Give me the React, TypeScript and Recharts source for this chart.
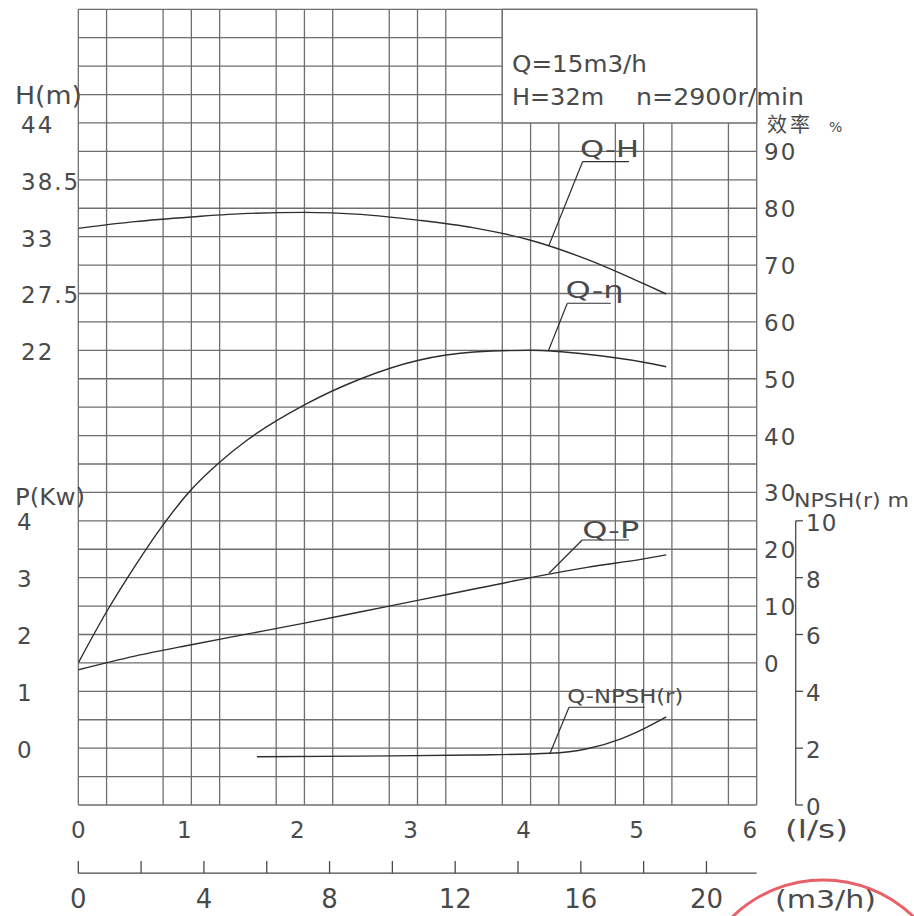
import React from 'react';
import {
  LineChart,
  Line,
  XAxis,
  YAxis,
  CartesianGrid,
  ReferenceArea,
  ReferenceLine,
  ReferenceDot,
} from 'recharts';

// ---------- data (flow in l/s) ----------
const qHead = [0, 0.5, 1, 1.5, 2, 2.5, 3, 3.5, 4, 4.5, 5, 5.2];
const headM = [33.8, 34.45, 34.9, 35.25, 35.35, 35.15, 34.6, 33.85, 32.65, 30.8, 28.45, 27.45];

const qEff = [0, 0.25, 0.5, 0.75, 1, 1.25, 1.5, 2, 2.5, 3, 3.5, 4, 4.5, 5, 5.2];
const effPct = [0, 9.0, 17.0, 24.3, 30.5, 35.3, 39.3, 45.4, 50.0, 53.2, 54.7, 55.0, 54.3, 52.9, 52.1];

const qPower = [0, 0.5, 1, 1.5, 2, 2.5, 3, 3.5, 4, 4.5, 5, 5.2];
const powerKw = [1.38, 1.62, 1.82, 2.01, 2.2, 2.4, 2.6, 2.8, 3.0, 3.18, 3.33, 3.4];

const qNpsh = [1.58, 2.5, 3.5, 4.17, 4.5, 4.8, 5.0, 5.2];
const npshM = [1.7, 1.72, 1.76, 1.82, 1.98, 2.33, 2.68, 3.1];

// ---------- ticks ----------
const flowTicks = [0, 1, 2, 3, 4, 5, 6];
const m3hTicks = [0, 2, 4, 6, 8, 10, 12, 14, 16, 18, 20];
const m3hLabels = [0, 4, 8, 12, 16, 20];
const headTicks = [22, 27.5, 33, 38.5, 44];
const effTicks = [0, 10, 20, 30, 40, 50, 60, 70, 80, 90];
const powerTicks = [0, 1, 2, 3, 4];
const npshTicks = [0, 2, 4, 6, 8, 10];
const gridCols = [0, 0.25, 0.5, 0.75, 1, 1.25, 1.5, 1.75, 2, 2.25, 2.5, 2.75, 3, 3.25, 3.5, 3.75, 4, 4.25, 4.5, 4.75, 5, 5.25, 5.5, 5.75, 6];
const gridRows = [0, 1, 2, 3, 4, 5, 6, 7, 8, 9, 10, 11, 12, 13, 14, 15, 16, 17, 18, 19, 20, 21, 22, 23, 24, 25, 26, 27, 28];

// ---------- curve label annotations (data coordinates) ----------
const annLabels = ['Q-H', 'Q-η', 'Q-P', 'Q-NPSH(r)'];
const annAxis = ['H', 'eta', 'P', 'npsh'];
const annText = [[4.437, 40.71], [4.31, 64.2], [4.457, 3.7], [4.325, 3.59]];
const annElbow = [[4.46, 40.25], [4.325, 63.28], [4.457, 3.663], [4.34, 3.44]];
const annEnd = [[4.87, 40.25], [4.709, 63.28], [4.87, 3.663], [5.009, 3.44]];
const annAnchor = [[4.16, 32.1], [4.157, 54.89], [4.163, 3.077], [4.172, 1.82]];

const toData = (qs: number[], vs: number[]) => qs.map((q, i) => ({ q, v: vs[i] }));
const headData = toData(qHead, headM);
const effData = toData(qEff, effPct);
const powerData = toData(qPower, powerKw);
const npshData = toData(qNpsh, npshM);

const FONT = '"DejaVu Sans", Arial, sans-serif';
const TXT = '#4a4a4a';
const GRID = '#6e6e6e';
const CURVE = '#2e2e2e';

const annWidths = [59, 58, 57, 116];
const annSizes = [23, 23, 23, 20];

// second flow scale (m3/h) baseline in the "rows" axis units (below the grid)
const M3H_AXIS_ROW = -2.4;

const HTick = (p: any) => (
  <text x={21} y={p.y + 10} fontSize={23} fill={TXT} fontFamily={FONT} letterSpacing={2}>
    {p.payload.value}
  </text>
);
const PTick = (p: any) => (
  <text x={17} y={p.y + 9.5} fontSize={23} fill={TXT} fontFamily={FONT} letterSpacing={2}>
    {p.payload.value}
  </text>
);
const EffTick = (p: any) => (
  <text x={764} y={p.y + 9} fontSize={23} fill={TXT} fontFamily={FONT} letterSpacing={2}>
    {p.payload.value}
  </text>
);
const NpshTick = (p: any) => (
  <g>
    <line x1={795.7} x2={803} y1={p.y} y2={p.y} stroke={TXT} strokeWidth={1.3} />
    <text x={806} y={p.y + 10} fontSize={23} fill={TXT} fontFamily={FONT} letterSpacing={1}>
      {p.payload.value}
    </text>
  </g>
);
const FlowTick = (p: any) => (
  <text
    x={p.x + (p.payload.value === 0 ? 0 : -7)}
    y={838}
    textAnchor="middle"
    fontSize={23}
    fill={TXT}
    fontFamily={FONT}
  >
    {p.payload.value}
  </text>
);
const M3hTick = (p: any) => (
  <g>
    <line x1={p.x} x2={p.x} y1={861} y2={873.3} stroke={TXT} strokeWidth={1.3} />
    {m3hLabels.includes(p.payload.value) ? (
      <text x={p.x} y={908} textAnchor="middle" fontSize={26} fill={TXT} fontFamily={FONT}>
        {p.payload.value}
      </text>
    ) : null}
  </g>
);

export default function App() {
  return (
    <div style={{ position: 'absolute', left: 0, top: 0, width: 914, height: 916, overflow: 'hidden', background: '#fff' }}>
      <LineChart width={914} height={916} data={headData} margin={{ top: 9.3, right: 0, bottom: 0, left: 0 }}>
        <XAxis xAxisId="cols" type="number" dataKey="q" domain={[0, 6]} ticks={gridCols} hide allowDataOverflow />
        <YAxis yAxisId="rows" type="number" domain={[0, 28]} ticks={gridRows} hide allowDataOverflow />
        <CartesianGrid xAxisId="cols" yAxisId="rows" stroke={GRID} strokeWidth={1.3} />

        <XAxis
          xAxisId="main"
          type="number"
          dataKey="q"
          domain={[0, 6]}
          ticks={flowTicks}
          interval={0}
          height={68}
          axisLine={false}
          tickLine={false}
          tick={FlowTick}
          allowDataOverflow
        />
        <XAxis
          xAxisId="m3h"
          type="number"
          dataKey="q"
          domain={[0, 21.6]}
          ticks={m3hTicks}
          interval={0}
          height={43}
          axisLine={false}
          tickLine={false}
          tick={M3hTick}
          allowDataOverflow
        />
        <YAxis
          yAxisId="H"
          orientation="left"
          type="number"
          domain={[-22, 55]}
          ticks={headTicks}
          interval={0}
          width={40}
          axisLine={false}
          tickLine={false}
          tick={HTick}
          allowDataOverflow
        />
        <YAxis
          yAxisId="P"
          orientation="left"
          type="number"
          domain={[-1, 13]}
          ticks={powerTicks}
          interval={0}
          width={38.3}
          axisLine={false}
          tickLine={false}
          tick={PTick}
          allowDataOverflow
        />
        <YAxis
          yAxisId="eta"
          orientation="right"
          type="number"
          domain={[-25, 115]}
          ticks={effTicks}
          interval={0}
          width={39.3}
          axisLine={false}
          tickLine={false}
          tick={EffTick}
          allowDataOverflow
        />
        <YAxis
          yAxisId="npsh"
          orientation="right"
          type="number"
          domain={[0, 28]}
          ticks={npshTicks}
          interval={0}
          width={118}
          axisLine={false}
          tickLine={false}
          tick={NpshTick}
          allowDataOverflow
        />

        <ReferenceArea
          xAxisId="main"
          yAxisId="H"
          x1={3.75}
          x2={6}
          y1={44}
          y2={55}
          fill="#fff"
          fillOpacity={1}
          stroke={GRID}
          strokeWidth={1.3}
          ifOverflow="visible"
        />
        <ReferenceLine
          xAxisId="main"
          yAxisId="npsh"
          segment={[{ x: 6.345, y: 0 }, { x: 6.345, y: 10 }]}
          stroke={TXT}
          strokeWidth={1.3}
          ifOverflow="visible"
        />
        <ReferenceLine
          xAxisId="main"
          yAxisId="rows"
          segment={[{ x: 0, y: M3H_AXIS_ROW }, { x: 6, y: M3H_AXIS_ROW }]}
          stroke={TXT}
          strokeWidth={1.3}
          ifOverflow="visible"
        />

        <Line data={headData} dataKey="v" xAxisId="main" yAxisId="H" type="monotone" dot={false} stroke={CURVE} strokeWidth={1.4} isAnimationActive={false} />
        <Line data={effData} dataKey="v" xAxisId="main" yAxisId="eta" type="monotone" dot={false} stroke={CURVE} strokeWidth={1.4} isAnimationActive={false} />
        <Line data={powerData} dataKey="v" xAxisId="main" yAxisId="P" type="monotone" dot={false} stroke={CURVE} strokeWidth={1.4} isAnimationActive={false} />
        <Line data={npshData} dataKey="v" xAxisId="main" yAxisId="npsh" type="monotone" dot={false} stroke={CURVE} strokeWidth={1.4} isAnimationActive={false} />

        {annLabels.map((lab, i) => (
          <ReferenceLine
            key={'a1' + i}
            xAxisId="main"
            yAxisId={annAxis[i]}
            segment={[
              { x: annAnchor[i][0], y: annAnchor[i][1] },
              { x: annElbow[i][0], y: annElbow[i][1] },
            ]}
            stroke={CURVE}
            strokeWidth={1.2}
            ifOverflow="visible"
          />
        ))}
        {annLabels.map((lab, i) => (
          <ReferenceLine
            key={'a2' + i}
            xAxisId="main"
            yAxisId={annAxis[i]}
            segment={[
              { x: annElbow[i][0], y: annElbow[i][1] },
              { x: annEnd[i][0], y: annEnd[i][1] },
            ]}
            stroke={CURVE}
            strokeWidth={1.2}
            ifOverflow="visible"
          />
        ))}
        {annLabels.map((lab, i) => (
          <ReferenceDot
            key={'t' + i}
            xAxisId="main"
            yAxisId={annAxis[i]}
            x={annText[i][0]}
            y={annText[i][1]}
            r={0}
            ifOverflow="visible"
            shape={(p: any) => (
              <text
                x={p.cx}
                y={p.cy}
                fontSize={annSizes[i]}
                fill={TXT}
                fontFamily={FONT}
                textLength={annWidths[i]}
                lengthAdjust="spacingAndGlyphs"
              >
                {lab}
              </text>
            )}
          />
        ))}
      </LineChart>

      <svg
        width={914}
        height={916}
        style={{ position: 'absolute', left: 0, top: 0, pointerEvents: 'none' }}
      >
        <g fontFamily={FONT} fill={TXT}>
          <text x={15} y={104} fontSize={25} textLength={67} lengthAdjust="spacingAndGlyphs">H(m)</text>
          <text x={15} y={505} fontSize={23} textLength={70} lengthAdjust="spacingAndGlyphs">P(Kw)</text>
          <text x={512} y={72} fontSize={23} textLength={135} lengthAdjust="spacingAndGlyphs">Q=15m3/h</text>
          <text x={512} y={104.5} fontSize={23} textLength={92} lengthAdjust="spacingAndGlyphs">H=32m</text>
          <text x={636} y={104.5} fontSize={23} textLength={168} lengthAdjust="spacingAndGlyphs">n=2900r/min</text>
          <text x={767} y={132} fontSize={20} fontFamily='"Noto Sans CJK SC", sans-serif' letterSpacing={3}>效率</text>
          <text x={829} y={132} fontSize={14}>%</text>
          <text x={794} y={507} fontSize={20} textLength={115} lengthAdjust="spacingAndGlyphs">NPSH(r) m</text>
          <text x={785} y={838} fontSize={25} textLength={63} lengthAdjust="spacingAndGlyphs">(l/s)</text>
          <text x={775} y={908} fontSize={25} textLength={101} lengthAdjust="spacingAndGlyphs">(m3/h)</text>
        </g>
        <circle cx={823} cy={1010} r={130} fill="none" stroke="#e23a44" strokeWidth={3} opacity={0.8} />
      </svg>
    </div>
  );
}
